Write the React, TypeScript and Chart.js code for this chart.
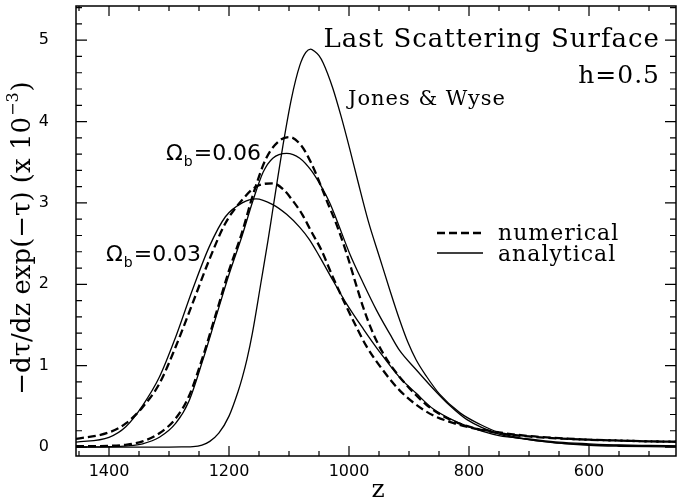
import React, { useEffect, useRef } from 'react';
import { Chart, registerables } from 'chart.js';

Chart.register(...registerables);

// Jones & Wyse (analytical)
const zJW = [1455, 1400, 1300, 1275, 1260, 1245, 1232, 1217, 1200, 1185, 1178, 1170, 1161, 1147, 1135, 1128, 1120, 1110, 1096, 1082, 1072, 1064, 1057, 1050, 1043, 1027, 1013, 999, 985, 968, 949, 932, 916, 902, 888, 871, 849, 815, 782, 749, 700, 650, 600, 550, 500, 455];
const vJW = [0, 0, 0, 0.002, 0.005, 0.025, 0.07, 0.17, 0.38, 0.68, 0.85, 1.08, 1.40, 2.01, 2.54, 2.87, 3.25, 3.71, 4.28, 4.69, 4.85, 4.89, 4.86, 4.81, 4.72, 4.41, 4.06, 3.67, 3.26, 2.78, 2.33, 1.93, 1.57, 1.29, 1.07, 0.87, 0.65, 0.42, 0.28, 0.175, 0.09, 0.048, 0.022, 0.01, 0.004, 0.002];

// Omega_b = 0.06 numerical
const zN06 = [1455, 1400, 1370, 1344, 1316, 1289, 1267, 1244, 1222, 1200, 1179, 1160, 1138, 1115, 1099, 1079, 1063, 1049, 1035, 1021, 1004, 990, 976, 960, 943, 927, 899, 871, 838, 804, 750, 700, 650, 600, 550, 500, 455];
const vN06 = [0.01, 0.015, 0.03, 0.07, 0.17, 0.35, 0.62, 1.10, 1.63, 2.17, 2.62, 3.10, 3.55, 3.77, 3.81, 3.70, 3.49, 3.25, 2.99, 2.74, 2.38, 2.04, 1.71, 1.40, 1.15, 0.97, 0.72, 0.52, 0.36, 0.26, 0.17, 0.13, 0.105, 0.09, 0.08, 0.07, 0.065];

// Omega_b = 0.06 analytical
const zA06 = [1455, 1400, 1370, 1344, 1316, 1289, 1267, 1244, 1222, 1200, 1178, 1160, 1143, 1127, 1104, 1082, 1063, 1046, 1032, 1021, 999, 976, 954, 932, 916, 888, 860, 832, 804, 750, 700, 650, 600, 550, 500, 455];
const vA06 = [0.0, 0.005, 0.015, 0.04, 0.12, 0.29, 0.56, 1.06, 1.59, 2.12, 2.60, 3.03, 3.38, 3.55, 3.61, 3.55, 3.40, 3.20, 3.00, 2.80, 2.38, 2.01, 1.68, 1.39, 1.19, 0.95, 0.72, 0.51, 0.34, 0.16, 0.09, 0.05, 0.03, 0.02, 0.015, 0.012];

// Omega_b = 0.03 numerical
const zN03 = [1455, 1400, 1372, 1344, 1316, 1289, 1261, 1233, 1206, 1180, 1155, 1127, 1110, 1093, 1078, 1063, 1046, 1027, 1004, 988, 971, 943, 916, 888, 860, 832, 804, 750, 700, 650, 600, 550, 500, 455];
const vN03 = [0.10, 0.18, 0.29, 0.49, 0.78, 1.23, 1.76, 2.30, 2.75, 3.02, 3.20, 3.24, 3.17, 3.02, 2.86, 2.65, 2.42, 2.09, 1.72, 1.48, 1.24, 0.94, 0.70, 0.52, 0.39, 0.31, 0.25, 0.18, 0.135, 0.11, 0.09, 0.08, 0.07, 0.065];

// Omega_b = 0.03 analytical
const zA03 = [1455, 1400, 1372, 1344, 1316, 1289, 1261, 1233, 1206, 1178, 1155, 1127, 1104, 1082, 1066, 1049, 1027, 1004, 976, 949, 916, 888, 860, 832, 804, 750, 700, 650, 600, 550, 500, 455];
const vA03 = [0.06, 0.12, 0.25, 0.51, 0.86, 1.35, 1.93, 2.46, 2.83, 3.00, 3.05, 2.98, 2.86, 2.70, 2.55, 2.34, 2.05, 1.76, 1.45, 1.17, 0.86, 0.66, 0.47, 0.35, 0.26, 0.14, 0.10, 0.06, 0.04, 0.025, 0.02, 0.015];

const xTickValues = [1400, 1200, 1000, 800, 600];
const yTickValues = [0, 1, 2, 3, 4, 5];
const xMin = 455;
const xMax = 1455;
const yMin = -0.11;
const yMax = 5.42;

const toPts = (zs: number[], vs: number[]) => zs.map((z, i) => ({ x: z, y: vs[i] }));

const SERIF = '"DejaVu Serif", serif';
const SANS = '"DejaVu Sans", sans-serif';

const decorPlugin = {
  id: 'decor',
  afterDraw(chart: any) {
    const ctx = chart.ctx as CanvasRenderingContext2D;
    const { left, right, top, bottom } = chart.chartArea;
    const xs = chart.scales.x;
    const ys = chart.scales.y;
    ctx.save();
    ctx.strokeStyle = '#000';
    ctx.fillStyle = '#000';
    ctx.setLineDash([]);
    // frame
    ctx.lineWidth = 1.5;
    ctx.strokeRect(left, top, right - left, bottom - top);
    // x ticks (inward, top and bottom)
    ctx.lineWidth = 1.2;
    for (let z = 500; z <= 1450; z += 50) {
      const px = xs.getPixelForValue(z);
      const len = z % 200 === 0 ? 10 : 5;
      ctx.beginPath();
      ctx.moveTo(px, bottom);
      ctx.lineTo(px, bottom - len);
      ctx.moveTo(px, top);
      ctx.lineTo(px, top + len);
      ctx.stroke();
    }
    // y ticks (inward, left and right)
    for (let k = 0; k <= 27; k++) {
      const v = k * 0.2;
      const py = ys.getPixelForValue(v);
      const len = k % 5 === 0 ? 11 : 6;
      ctx.beginPath();
      ctx.moveTo(left, py);
      ctx.lineTo(left + len, py);
      ctx.moveTo(right, py);
      ctx.lineTo(right - len, py);
      ctx.stroke();
    }

    // annotations
    (ctx as any).letterSpacing = '1px';
    ctx.font = `26px ${SERIF}`;
    ctx.textAlign = 'right';
    ctx.textBaseline = 'alphabetic';
    ctx.fillText('Last Scattering Surface', 660, 47);
    ctx.font = `25px ${SERIF}`;
    ctx.fillText('h=0.5', 660, 83);
    ctx.textAlign = 'left';
    ctx.font = `21px ${SERIF}`;
    ctx.fillText('Jones & Wyse', 348, 105);

    // legend
    ctx.font = `22px ${SERIF}`;
    ctx.fillText('numerical', 498, 240);
    ctx.fillText('analytical', 498, 261);
    (ctx as any).letterSpacing = '0px';
    ctx.lineWidth = 2.3;
    ctx.setLineDash([8, 4]);
    ctx.beginPath();
    ctx.moveTo(437, 233);
    ctx.lineTo(483, 233);
    ctx.stroke();
    ctx.setLineDash([]);
    ctx.lineWidth = 1.3;
    ctx.beginPath();
    ctx.moveTo(437, 253);
    ctx.lineTo(483, 253);
    ctx.stroke();

    // Omega labels
    const omega = (x: number, y: number, val: string) => {
      ctx.font = `22px ${SANS}`;
      ctx.fillText('\u03A9', x, y);
      let cx = x + ctx.measureText('\u03A9').width + 1;
      ctx.font = `14px ${SANS}`;
      ctx.fillText('b', cx, y + 6);
      cx += ctx.measureText('b').width + 1;
      ctx.font = `22px ${SANS}`;
      ctx.fillText('=' + val, cx, y);
    };
    omega(166, 160, '0.06');
    omega(106, 261, '0.03');

    // y title (rotated)
    ctx.save();
    ctx.translate(23, 238);
    ctx.rotate(-Math.PI / 2);
    ctx.textAlign = 'left';
    ctx.textBaseline = 'middle';
    const main = '\u2212d\u03C4/dz exp(\u2212\u03C4) (x 10';
    const sup = '\u22123';
    const end = ')';
    ctx.font = `26px ${SERIF}`;
    const wMain = ctx.measureText(main).width;
    const wEnd = ctx.measureText(end).width;
    ctx.font = `16px ${SERIF}`;
    const wSup = ctx.measureText(sup).width;
    const total = wMain + wSup + wEnd + 2;
    let cx = -total / 2;
    ctx.font = `26px ${SERIF}`;
    ctx.fillText(main, cx, 0);
    cx += wMain + 1;
    ctx.font = `16px ${SERIF}`;
    ctx.fillText(sup, cx, -9);
    cx += wSup + 1;
    ctx.font = `26px ${SERIF}`;
    ctx.fillText(end, cx, 0);
    ctx.restore();

    // x title
    ctx.font = `25px ${SERIF}`;
    ctx.textAlign = 'center';
    ctx.textBaseline = 'alphabetic';
    ctx.fillText('z', 378, 497);
    ctx.restore();
  },
};

export default function App() {
  const ref = useRef<HTMLCanvasElement | null>(null);
  useEffect(() => {
    document.body.style.margin = '0';
    const canvas = ref.current;
    if (!canvas) return;
    const dashed = { borderColor: '#000', borderWidth: 2.3, borderDash: [8, 4], pointRadius: 0, showLine: true, cubicInterpolationMode: 'monotone' as const, fill: false };
    const solid = { borderColor: '#000', borderWidth: 1.3, pointRadius: 0, showLine: true, cubicInterpolationMode: 'monotone' as const, fill: false };
    const chart = new Chart(canvas, {
      type: 'scatter',
      data: {
        datasets: [
          { label: 'Jones & Wyse', data: toPts(zJW, vJW), ...solid },
          { label: 'Ωb=0.06 numerical', data: toPts(zN06, vN06), ...dashed },
          { label: 'Ωb=0.06 analytical', data: toPts(zA06, vA06), ...solid },
          { label: 'Ωb=0.03 numerical', data: toPts(zN03, vN03), ...dashed },
          { label: 'Ωb=0.03 analytical', data: toPts(zA03, vA03), ...solid },
        ],
      },
      options: {
        responsive: false,
        animation: false,
        events: [],
        layout: { padding: { left: 0, right: 9, top: 6, bottom: 0 } },
        plugins: { legend: { display: false }, tooltip: { enabled: false }, title: { display: false } },
        scales: {
          x: {
            type: 'linear',
            reverse: true,
            min: xMin,
            max: xMax,
            grid: { display: false, drawTicks: false },
            border: { display: false },
            afterBuildTicks: (s: any) => { s.ticks = xTickValues.map((v) => ({ value: v })); },
            afterFit: (s: any) => { s.height = 46; s.paddingLeft = 0; s.paddingRight = 0; },
            ticks: { padding: 6, color: '#000', font: { family: 'DejaVu Sans', size: 16 }, maxRotation: 0, callback: (v: any) => String(v) },
          },
          y: {
            type: 'linear',
            min: yMin,
            max: yMax,
            grid: { display: false, drawTicks: false },
            border: { display: false },
            afterBuildTicks: (s: any) => { s.ticks = yTickValues.map((v) => ({ value: v })); },
            afterFit: (s: any) => { s.width = 76; s.paddingTop = 0; s.paddingBottom = 0; },
            ticks: { padding: 27, color: '#000', font: { family: 'DejaVu Sans', size: 16 }, callback: (v: any) => String(v) },
          },
        },
      },
      plugins: [decorPlugin],
    });
    return () => chart.destroy();
  }, []);
  return (
    <div style={{ width: 685, height: 502, background: '#fff' }}>
      <canvas ref={ref} width={685} height={502} style={{ display: 'block' }} />
    </div>
  );
}
